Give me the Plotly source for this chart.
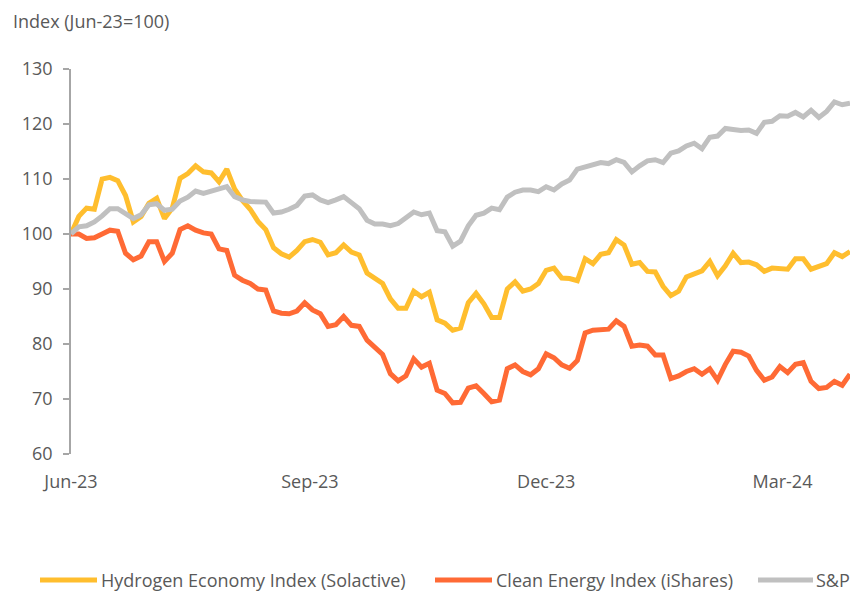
import pandas as pd
import plotly.graph_objects as go

# ---- data (sampled every 3 calendar days from 1 Jun 2023) ----
dates = pd.date_range("2023-06-01", periods=101, freq="3D")

hydrogen = [
    100.0, 103.2, 104.7, 104.5, 110.0, 110.3, 109.7, 107.0, 102.2, 103.2,
    105.6, 106.5, 102.8, 104.7, 110.1, 111.0, 112.4, 111.3, 111.1, 109.5,
    111.8, 108.2, 106.1, 104.5, 102.3, 100.8, 97.5, 96.4, 95.8, 97.0,
    98.6, 99.0, 98.5, 96.2, 96.6, 98.0, 96.7, 96.2, 92.9, 92.0,
    91.0, 88.2, 86.5, 86.5, 89.6, 88.6, 89.4, 84.4, 83.8, 82.5,
    82.9, 87.5, 89.2, 87.3, 84.8, 84.8, 90.0, 91.3, 89.6, 90.0,
    91.0, 93.4, 93.8, 92.0, 91.9, 91.5, 95.5, 94.6, 96.3, 96.6,
    99.0, 98.0, 94.5, 94.8, 93.2, 93.1, 90.5, 88.8, 89.6, 92.2,
    92.8, 93.3, 95.0, 92.4, 94.2, 96.5, 94.8, 94.9, 94.4, 93.2,
    93.8, 93.8, 93.6, 95.5, 95.5, 93.6, 94.0, 94.6, 96.6, 95.9,
    96.8,
]

clean_energy = [
    100.0, 100.0, 99.2, 99.3, 100.0, 100.7, 100.5, 96.5, 95.3, 96.0,
    98.6, 98.6, 95.0, 96.5, 100.8, 101.5, 100.7, 100.2, 100.0, 97.3,
    97.0, 92.5, 91.6, 91.0, 90.0, 89.8, 86.0, 85.6, 85.5, 86.0,
    87.5, 86.2, 85.5, 83.2, 83.5, 85.0, 83.4, 83.2, 80.7, 79.5,
    78.1, 74.6, 73.3, 74.2, 77.3, 75.8, 76.5, 71.6, 71.0, 69.3,
    69.4, 72.0, 72.4, 71.0, 69.5, 69.8, 75.5, 76.2, 75.0, 74.4,
    75.5, 78.2, 77.5, 76.2, 75.6, 77.0, 82.0, 82.5, 82.6, 82.7,
    84.2, 83.2, 79.6, 79.8, 79.6, 78.0, 78.0, 73.7, 74.2, 75.0,
    75.5, 74.5, 75.5, 73.4, 76.3, 78.7, 78.5, 77.8, 75.2, 73.4,
    74.0, 75.9, 74.8, 76.3, 76.6, 73.2, 71.9, 72.1, 73.2, 72.5,
    74.5,
]

snp = [
    100.0, 101.3, 101.5, 102.2, 103.3, 104.6, 104.6, 103.6, 102.8, 103.5,
    105.3, 105.5, 104.3, 104.5, 106.0, 106.7, 107.8, 107.4, 107.8, 108.2,
    108.6, 106.8, 106.2, 105.9, 105.9, 105.8, 103.8, 104.0, 104.5, 105.2,
    106.9, 107.1, 106.2, 105.7, 106.2, 106.8, 105.7, 104.6, 102.5, 101.8,
    101.8, 101.5, 101.9, 103.0, 104.0, 103.5, 103.8, 100.6, 100.4, 97.8,
    98.7, 101.5, 103.4, 103.8, 104.7, 104.4, 106.7, 107.6, 108.0, 108.0,
    107.7, 108.6, 108.0, 109.1, 109.8, 111.8, 112.2, 112.6, 113.0, 112.8,
    113.5, 113.0, 111.3, 112.4, 113.3, 113.5, 113.0, 114.7, 115.1, 116.0,
    116.5, 115.5, 117.6, 117.8, 119.2, 119.0, 118.8, 118.9, 118.3, 120.3,
    120.5, 121.5, 121.4, 122.1, 121.3, 122.5, 121.2, 122.3, 124.0, 123.5,
    123.8,
]

series_names = ["Hydrogen Economy Index (Solactive)", "Clean Energy Index (iShares)", "S&P"]
series_colors = ["#FFBE2E", "#FF6A35", "#C0C0C0"]
tick_dates = ["2023-06-01", "2023-09-01", "2023-12-01", "2024-03-01"]
tick_labels = ["Jun-23", "Sep-23", "Dec-23", "Mar-24"]
y_title = "Index (Jun-23=100)"

# ---- layout geometry ----
W, H = 868, 593
ML, MR, MT, MB = 71, 18, 69, 139
PW, PH = W - ML - MR, H - MT - MB
FONT = "Open Sans, Arial, sans-serif"
TXT = "#595959"


def px_x(px):
    return (px - ML) / PW


def px_y(py):
    return (H - MB - py) / PH


fig = go.Figure()
for name, vals, col in zip(series_names, [hydrogen, clean_energy, snp], series_colors):
    fig.add_trace(go.Scatter(x=dates, y=vals, mode="lines", name=name,
                             line=dict(color=col, width=5), showlegend=False))

fig.update_layout(
    width=W, height=H,
    margin=dict(l=ML, r=MR, t=MT, b=MB, pad=0),
    paper_bgcolor="white", plot_bgcolor="white",
    font=dict(family=FONT, size=18, color=TXT),
    xaxis=dict(type="date", range=[dates[0], dates[-1]],
               tickvals=tick_dates, ticktext=tick_labels,
               showgrid=False, zeroline=False, showline=False, ticks="",
               ticklabelstandoff=15, tickfont=dict(size=18, color=TXT)),
    yaxis=dict(range=[60, 130], dtick=10, tick0=60,
               showgrid=False, zeroline=False, showline=True,
               linecolor="#A6A6A6", linewidth=1.5,
               ticks="outside", ticklen=6, tickcolor="#A6A6A6", tickwidth=1.5,
               ticklabelstandoff=7, tickfont=dict(size=18, color=TXT)),
)

annotations = [dict(text=y_title, x=px_x(11), y=px_y(21), xref="paper", yref="paper",
                    xanchor="left", yanchor="middle", showarrow=False,
                    font=dict(size=18, color=TXT, family=FONT))]
shapes = []
legend_px = [(40, 97, 99), (435, 492, 494), (758, 813, 814)]
leg_y = px_y(580)
for (x0, x1, xt), name, col in zip(legend_px, series_names, series_colors):
    shapes.append(dict(type="line", xref="paper", yref="paper",
                       x0=px_x(x0), x1=px_x(x1), y0=leg_y, y1=leg_y,
                       line=dict(color=col, width=5)))
    annotations.append(dict(text=name, x=px_x(xt), y=leg_y, xref="paper", yref="paper",
                            xanchor="left", yanchor="middle", showarrow=False,
                            font=dict(size=18, color=TXT, family=FONT)))
fig.update_layout(annotations=annotations, shapes=shapes)

fig.write_html("out.html", config={"displayModeBar": False},
               post_script="document.body.style.margin='0';document.body.style.overflow='hidden';")
